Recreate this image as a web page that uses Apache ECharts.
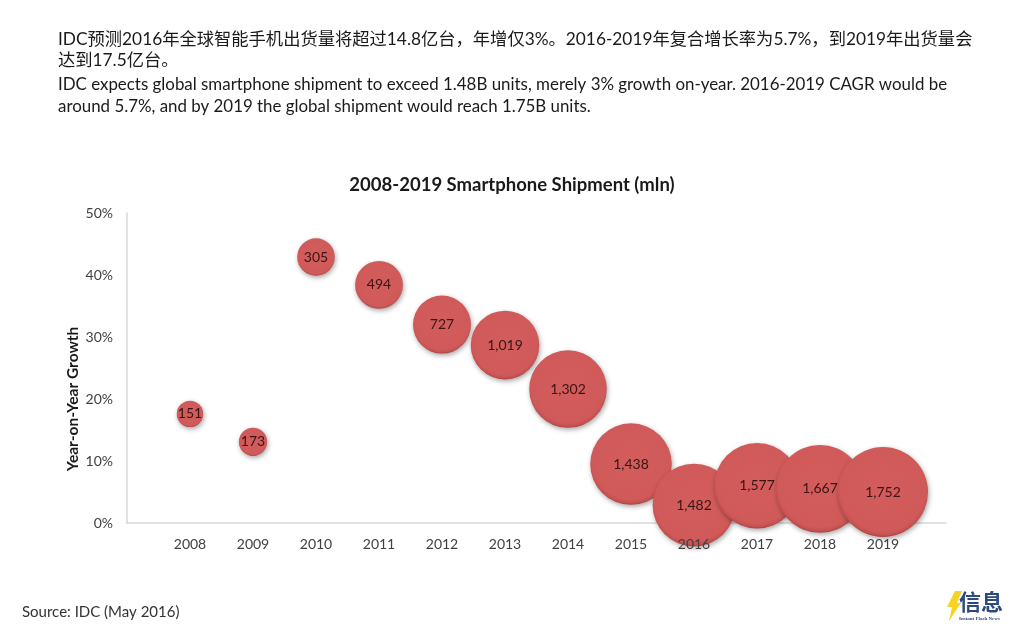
<!DOCTYPE html>
<html>
<head>
<meta charset="utf-8">
<style>
  html, body { margin: 0; padding: 0; background: #fff; }
  #main { width: 1024px; height: 640px; }
</style>
<script src="https://cdn.jsdelivr.net/npm/echarts@6/dist/echarts.min.js"></script>
</head>
<body>
<div id="main"></div>
<script>
var years = [2008, 2009, 2010, 2011, 2012, 2013, 2014, 2015, 2016, 2017, 2018, 2019];
var growth = [17.6, 13.1, 42.9, 38.4, 32, 28.7, 21.6, 9.5, 2.9, 6, 5.5, 5];
var shipments = [151, 173, 305, 494, 727, 1019, 1302, 1438, 1482, 1577, 1667, 1752];

var headerLines = [
    'IDC预测2016年全球智能手机出货量将超过14.8亿台，年增仅3%。2016-2019年复合增长率为5.7%，到2019年出货量会',
    '达到17.5亿台。',
    'IDC expects global smartphone shipment to exceed 1.48B units, merely 3% growth on-year. 2016-2019 CAGR would be',
    'around 5.7%, and by 2019 the global shipment would reach 1.75B units.'
];
var headerY = [39, 60, 84, 106];
var headerSize = [17.3, 17.3, 16.9, 16.9];

var fontLatin = 'Lato, "Noto Sans CJK SC", sans-serif';
var chart = echarts.init(document.getElementById('main'));

var graphics = headerLines.map(function (line, i) {
    return {
        type: 'text', left: 58, top: headerY[i] - 8,
        style: { text: line, font: headerSize[i] + 'px ' + fontLatin, fill: '#1a1a1a' }
    };
});
graphics.push(
    { type: 'text', left: 22, top: 605, style: { text: 'Source: IDC (May 2016)', font: '15px ' + fontLatin, fill: '#333' } },
    // logo
    { type: 'polygon', shape: { points: [[955, 591], [962, 591], [957, 603], [961, 603], [949, 621], [952, 607], [947, 607]] }, style: { fill: '#f5d327' } },
    { type: 'text', left: 959, top: 591, style: { text: '信息', font: 'bold 22px "Noto Sans CJK SC"', fill: '#2c4a80' } },
    { type: 'text', left: 959, top: 616, style: { text: 'Instant Flash News', font: 'bold 5px "Liberation Serif"', fill: '#2c4a80' } }
);

var option = {
    animation: false,
    backgroundColor: '#fff',
    title: {
        text: '2008-2019 Smartphone Shipment (mln)',
        left: 'center',
        top: 171,
        textStyle: { fontFamily: fontLatin, fontSize: 18.5, fontWeight: 'bold', color: '#1a1a1a' }
    },
    grid: { left: 127, right: 78, top: 213, bottom: 117 },
    xAxis: [
        {
            type: 'value', min: 2007, max: 2020, interval: 1, z: 5,
            splitLine: { show: false },
            axisTick: { show: false },
            axisLine: { show: false },
            axisLabel: {
                margin: 14, fontFamily: fontLatin, fontSize: 14, color: '#404040',
                showMinLabel: false, showMaxLabel: false,
                formatter: function (v) { return years.indexOf(v) >= 0 ? String(v) : ''; }
            }
        },
        {
            type: 'value', min: 2007, max: 2020, interval: 1, position: 'bottom', z: 0,
            splitLine: { show: false },
            axisTick: { show: false },
            axisLabel: { show: false },
            axisLine: { show: true, onZero: false, lineStyle: { color: '#d9d9d9', width: 1.5 } }
        }
    ],
    yAxis: {
        type: 'value', min: 0, max: 50, interval: 10,
        name: 'Year-on-Year Growth',
        nameLocation: 'middle',
        nameGap: 54,
        nameRotate: 90,
        nameMoveOverlap: false,
        nameTextStyle: { fontFamily: fontLatin, fontSize: 15.5, fontWeight: 'bold', color: '#1a1a1a', padding: [0, 62, 0, 0], verticalAlign: 'middle' },
        splitLine: { show: false },
        axisTick: { show: false },
        axisLine: { show: true, lineStyle: { color: '#d9d9d9', width: 1.5 } },
        axisLabel: { margin: 14, fontFamily: fontLatin, fontSize: 14, color: '#404040', formatter: '{value}%' }
    },
    series: [{
        type: 'scatter',
        clip: false,
        data: years.map(function (y, i) { return [y, growth[i], shipments[i]]; }),
        // bubble area follows shipment volume
        symbolSize: function (d) { return 2.15 * Math.sqrt(d[2]); },
        itemStyle: {
            opacity: 1,
            color: {
                type: 'radial', x: 0.5, y: 0.46, r: 0.54,
                colorStops: [
                    { offset: 0, color: '#d25d5c' },
                    { offset: 0.88, color: '#cf5a59' },
                    { offset: 0.96, color: '#c45050' },
                    { offset: 1, color: '#a83f3f' }
                ]
            },
            shadowBlur: 5,
            shadowOffsetX: 1,
            shadowOffsetY: 2,
            shadowColor: 'rgba(0,0,0,0.35)'
        },
        label: {
            show: true, position: 'inside',
            fontFamily: fontLatin, fontSize: 14, color: '#3a1414',
            formatter: function (p) { return p.value[2].toLocaleString('en-US'); }
        }
    }],
    graphic: graphics
};
chart.setOption(option);
</script>
</body>
</html>
